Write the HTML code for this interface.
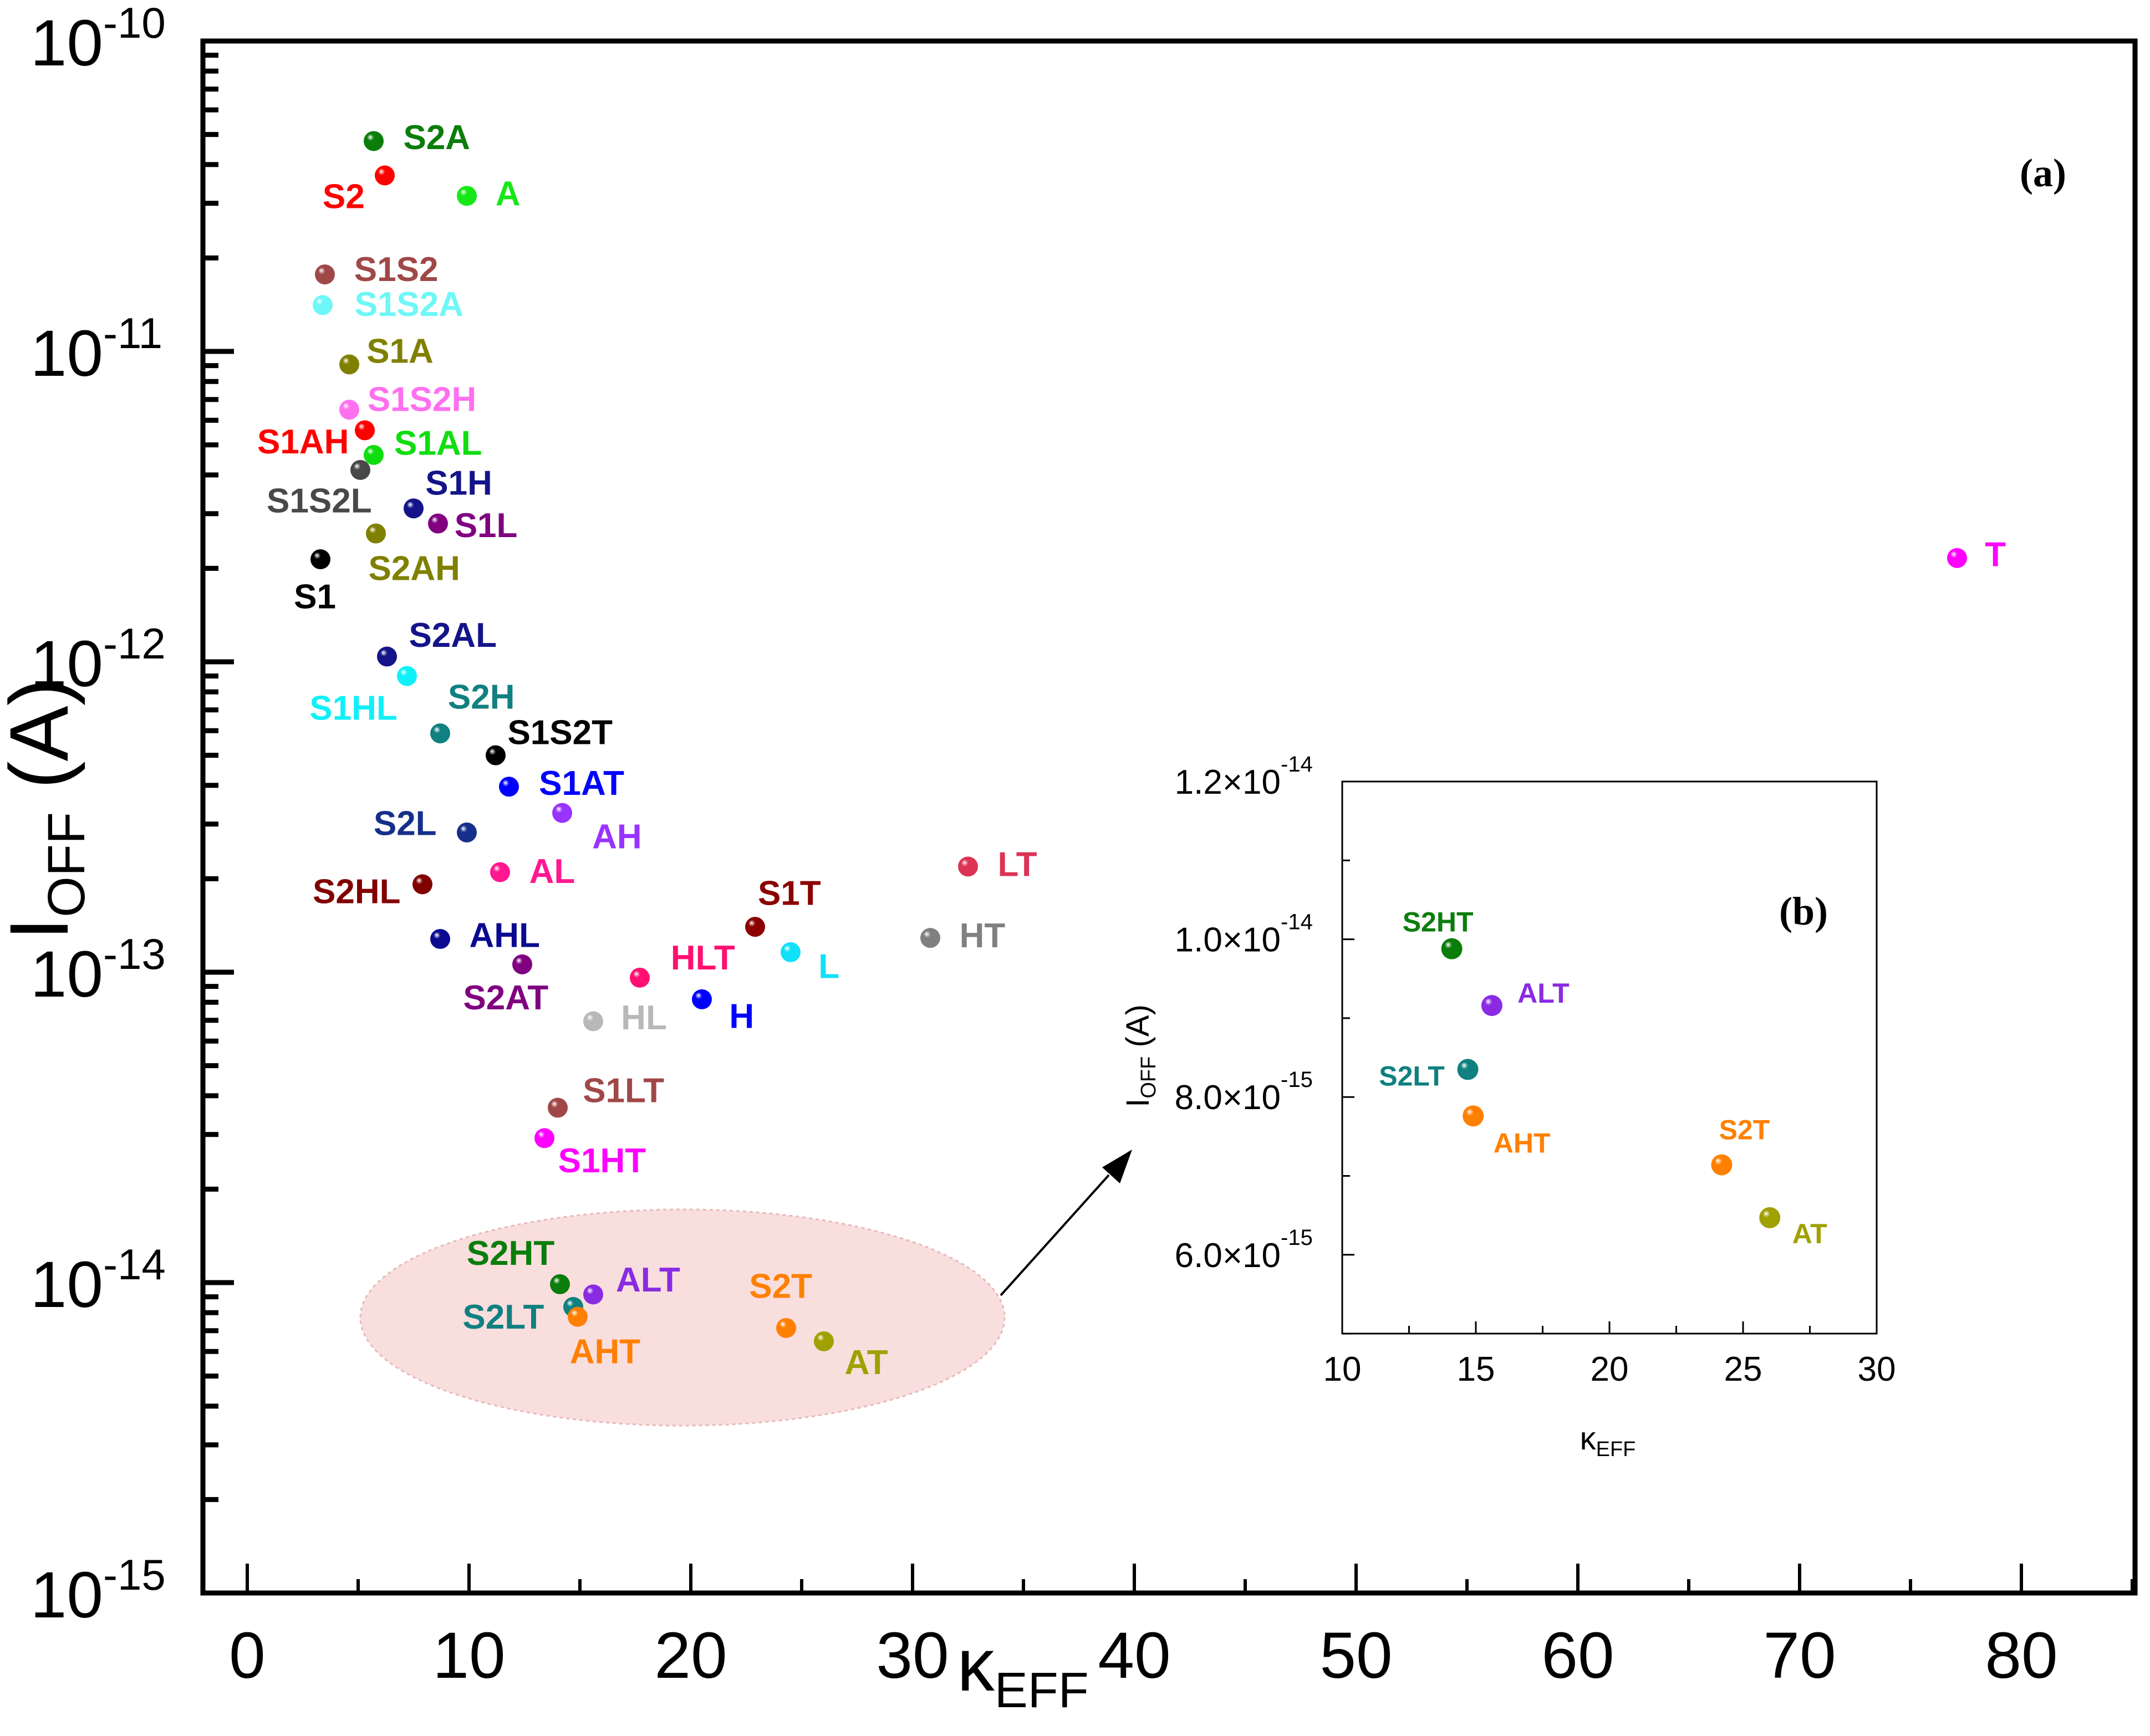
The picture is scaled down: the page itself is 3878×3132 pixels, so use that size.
<!DOCTYPE html>
<html><head><meta charset="utf-8">
<style>
html,body{margin:0;padding:0;background:#fff;}
svg{display:block;font-family:"Liberation Sans",Arial,sans-serif;}
</style></head>
<body>
<svg id="chart" xmlns="http://www.w3.org/2000/svg" width="3878" height="3132" viewBox="0 0 3878 3132">
<rect x="0" y="0" width="3878" height="3132" fill="#fff"/>
<defs id="defs"></defs>
<g id="ellipseg">
<ellipse cx="1231" cy="2377" rx="581" ry="195" fill="#f9dede" stroke="#e8b8b8" stroke-width="3" stroke-dasharray="6,6"/>
</g>
<g>
<line x1="1805" y1="2337" x2="2000" y2="2120" stroke="#000" stroke-width="4"/>
<polygon points="2042,2074 2020,2135 1988,2106" fill="#000"/>
</g>
<g id="main"></g>
<g id="inset"></g>
<text x="3685" y="336" font-family="Liberation Serif,serif" font-weight="bold" font-size="72" text-anchor="middle">(a)</text>
<text x="3253" y="1668" font-family="Liberation Serif,serif" font-weight="bold" font-size="72" text-anchor="middle">(b)</text>
<text transform="translate(122,1460) rotate(-90)" text-anchor="middle" font-size="150">I<tspan font-size="95" dy="30">OFF</tspan><tspan dy="-30"> (A)</tspan></text>
<text x="1845" y="3050" text-anchor="middle" font-size="135">κ<tspan font-size="90" dy="30">EFF</tspan></text>
<text transform="translate(2072,1905) rotate(-90)" text-anchor="middle" font-size="58">I<tspan font-size="38" dy="12">OFF</tspan><tspan dy="-12"> (A)</tspan></text>
<text x="2900" y="2615" text-anchor="middle" font-size="58">κ<tspan font-size="38" dy="12">EFF</tspan></text>
</svg>
<script>
const names = ["S2A","S2","A","S1S2","S1S2A","S1A","S1S2H","S1AH","S1AL","S1S2L","S1H","S1L","S2AH","S1","T","S2AL","S1HL","S2H","S1S2T","S1AT","AH","S2L","AL","LT","S2HL","S1T","HT","AHL","L","S2AT","HLT","H","HL","S1LT","S1HT","S2HT","ALT","S2LT","AHT","S2T","AT"];
const kappa = [5.7,6.2,9.9,3.5,3.4,4.6,4.6,5.3,5.7,5.1,7.5,8.6,5.8,3.3,77.1,6.3,7.2,8.7,11.2,11.8,14.2,9.9,11.4,32.5,7.9,22.9,30.8,8.7,24.5,12.4,17.7,20.5,15.6,14.0,13.4,14.1,15.6,14.7,14.9,24.3,26.0];
const ioff = [4.76e-11,3.69e-11,3.17e-11,1.77e-11,1.41e-11,9.08e-12,6.49e-12,5.57e-12,4.64e-12,4.15e-12,3.12e-12,2.79e-12,2.59e-12,2.14e-12,2.16e-12,1.04e-12,9.0e-13,5.88e-13,5.0e-13,3.96e-13,3.26e-13,2.82e-13,2.10e-13,2.19e-13,1.92e-13,1.40e-13,1.29e-13,1.28e-13,1.16e-13,1.06e-13,9.6e-14,8.18e-14,6.95e-14,3.66e-14,2.92e-14,9.88e-15,9.16e-15,8.35e-15,7.76e-15,7.14e-15,6.47e-15];
const insetNames = ["S2HT","ALT","S2LT","AHT","S2T","AT"];
const insetKappa = [14.1,15.6,14.7,14.9,24.2,26.0];
const insetIoff = [9.88e-15,9.16e-15,8.35e-15,7.76e-15,7.14e-15,6.47e-15];
const xTicks = [0,10,20,30,40,50,60,70,80];
const yTickExps = [-10,-11,-12,-13,-14,-15];
const insetXTicks = [10,15,20,25,30];
const insetYTicks = [6e-15,8e-15,1.0e-14,1.2e-14];
const insetYTickLabels = ["6.0×10","8.0×10","1.0×10","1.2×10"];
const insetYTickExps = ["-15","-15","-14","-14"];

const colors = {S2A:"#0b7d0b",S2:"#ff0000",A:"#16e816",S1S2:"#a04848",S1S2A:"#6ef7f7",S1A:"#808000",S1S2H:"#ff70f0",S1AH:"#ff0000",S1AL:"#10dd10",S1S2L:"#484848",S1H:"#14148a",S1L:"#800080",S2AH:"#808000",S1:"#000000",T:"#ff00ff",S2AL:"#14148a",S1HL:"#10f0f8",S2H:"#108080",S1S2T:"#000000",S1AT:"#0000ff",AH:"#9933ff",S2L:"#14308a",AL:"#ff1890",LT:"#dd3355",S2HL:"#800000",S1T:"#8b0000",HT:"#808080",AHL:"#0a0a90",L:"#10e0f8",S2AT:"#800080",HLT:"#ff1070",H:"#0000ff",HL:"#b8b8b8",S1LT:"#a04848",S1HT:"#ff00ff",S2HT:"#0b7d0b",ALT:"#8a2be2",S2LT:"#108080",AHT:"#ff8000",S2T:"#ff8000",AT:"#a0a000"};
const offs = {S2A:[46,-3],S2:[-30,15],A:[30,-2],S1S2:[52,-4],S1S2A:[63,-1],S1A:[37,-10],S1S2H:[53,-8],S1AH:[-45,8],S1AL:[47,-9],S1S2L:[-30,22],S1H:[33,-19],S1L:[35,1],S2AH:[28,25],S1:[-4,27],T:[28,-3],S2AL:[48,-16],S1HL:[-39,23],S2H:[30,-27],S1S2T:[47,-17],S1AT:[53,-3],AH:[40,17],S2L:[-45,-7],AL:[38,-1],LT:[36,-2],S2HL:[-48,5],S1T:[25,-25],HT:[38,-2],AHL:[47,-3],L:[28,10],S2AT:[-12,24],HLT:[46,-15],H:[29,12],HL:[37,-3],S1LT:[48,-13],S1HT:[42,16],S2HT:[-36,-23],ALT:[40,-11],S2LT:[-51,7],AHT:[20,25],S2T:[-4,-31],AT:[31,15]};
const insetOffs = {S2HT:[-25,-49],ALT:[93,-23],S2LT:[-101,11],AHT:[88,48],S2T:[41,-64],AT:[72,28]};

const NS="http://www.w3.org/2000/svg";
const SC=2.473;
function mk(tag, attrs, parent){const e=document.createElementNS(NS,tag);for(const k in attrs)e.setAttribute(k,attrs[k]);parent.appendChild(e);return e;}
const xMain=v=>446+40*v;
const yMain=v=>74+560*(-10-Math.log10(v));
const xIn=v=>2421+48.2*(v-10);
const yIn=v=>1410+142.3*(12-v*1e15);

const defs=document.getElementById('defs');
let gid=0;
function grad(c){const id='g'+(gid++);const g=mk('radialGradient',{id:id,cx:'0.4',cy:'0.38',r:'0.62',fx:'0.32',fy:'0.3'},defs);mk('stop',{offset:'0',"stop-color":'#ffffff'},g);mk('stop',{offset:'0.28',"stop-color":c},g);mk('stop',{offset:'1',"stop-color":c},g);return 'url(#'+id+')';}

const main=document.getElementById('main');
const frame=mk('rect',{x:366,y:74,width:3485,height:2800,fill:'none',stroke:'#000','stroke-width':9},main);


xTicks.forEach(t=>{
  const l=mk('line',{x1:xMain(t),x2:xMain(t),y1:2874,y2:2821,stroke:'#000','stroke-width':6},main);
  
  
  const m=mk('line',{x1:xMain(t+5),x2:xMain(t+5),y1:2874,y2:2849,stroke:'#000','stroke-width':6},main);
  
  
  const tx=mk('text',{x:xMain(t),y:3027,'text-anchor':'middle','font-size':118},main);
  tx.textContent=t;
  
  
});
yTickExps.forEach(e=>{
  const y=yMain(Math.pow(10,e));
  const l=mk('line',{x1:366,x2:422,y1:y,y2:y,stroke:'#000','stroke-width':9},main);
  
  
  if(e>-15){for(let k=2;k<10;k++){const yy=yMain(k*Math.pow(10,e-1));const m=mk('line',{x1:366,x2:394,y1:yy,y2:yy,stroke:'#000','stroke-width':9},main);
    
    }}
  const tx=mk('text',{x:186,y:y+44,'text-anchor':'end','font-size':118},main);
  tx.textContent='10';
  
  
  const sp=mk('text',{x:186,y:y-6,'text-anchor':'start','font-size':78},main);
  sp.textContent=String(e);
  
  
});
names.forEach((n,i)=>{
  const cx=xMain(kappa[i]),cy=yMain(ioff[i]);const c=colors[n];
  const p=mk('circle',{cx:cx,cy:cy,r:18,fill:grad(c)},main);
  
  
  const o=offs[n];
  const t=mk('text',{x:cx+o[0]*SC,y:cy+o[1]*SC+22,'text-anchor':'middle','font-size':62,'font-weight':'bold',fill:c},main);
  t.textContent=n;
  
  
});

const ins=document.getElementById('inset');
const bg=mk('rect',{x:2421,y:1410,width:964,height:996,fill:'#fff',stroke:'#000','stroke-width':3},ins);


insetXTicks.forEach(t=>{
  const l=mk('line',{x1:xIn(t),x2:xIn(t),y1:2406,y2:2384,stroke:'#000','stroke-width':3},ins);
  
  
  if(t<30){const m=mk('line',{x1:xIn(t+2.5),x2:xIn(t+2.5),y1:2406,y2:2392,stroke:'#000','stroke-width':3},ins);
    
    }
  const tx=mk('text',{x:xIn(t),y:2491,'text-anchor':'middle','font-size':62},ins);
  tx.textContent=t;
  
  
});
insetYTicks.forEach((t,i)=>{
  const y=yIn(t);
  const l=mk('line',{x1:2421,x2:2443,y1:y,y2:y,stroke:'#000','stroke-width':3},ins);
  
  
  if(i<3){const yy=yIn(t+1e-15);const m=mk('line',{x1:2421,x2:2435,y1:yy,y2:yy,stroke:'#000','stroke-width':3},ins);
    
    }
  const tx=mk('text',{x:2310,y:y+22,'text-anchor':'end','font-size':62},ins);
  tx.textContent=insetYTickLabels[i];
  
  
  const sp=mk('text',{x:2310,y:y-18,'text-anchor':'start','font-size':40},ins);
  sp.textContent=insetYTickExps[i];
  
  
});
{const m=mk('line',{x1:2421,x2:2435,y1:yIn(5e-15),y2:yIn(5e-15),stroke:'#000','stroke-width':3},ins);
 
 }
insetNames.forEach((n,i)=>{
  const cx=xIn(insetKappa[i]),cy=yIn(insetIoff[i]);const c=colors[n];
  const p=mk('circle',{cx:cx,cy:cy,r:19,fill:grad(c)},ins);
  
  
  const o=insetOffs[n];
  const t=mk('text',{x:cx+o[0],y:cy+o[1]+18,'text-anchor':'middle','font-size':50,'font-weight':'bold',fill:c},ins);
  t.textContent=n;
  
  
});
</script>
</body></html>
